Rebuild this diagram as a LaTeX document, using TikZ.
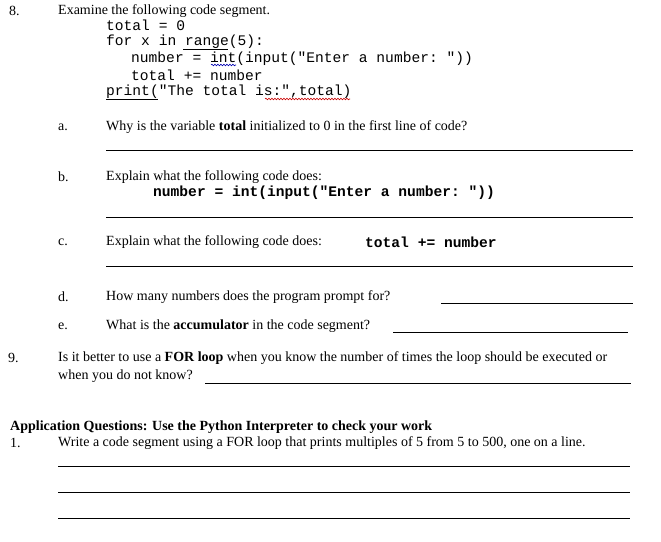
\documentclass[tikz,border=0pt]{standalone}
\usepackage{fontspec}
\setmainfont{Liberation Serif}
\setmonofont{Liberation Mono}
\usetikzlibrary{decorations.pathmorphing}
\begin{document}
\begin{tikzpicture}[x=1pt,y=-1pt,
  txt/.style={anchor=west,inner sep=0pt,font=\fontsize{14}{16}\selectfont},
  code/.style={anchor=west,inner sep=0pt,font=\fontsize{14.6}{16}\ttfamily},
  bcode/.style={anchor=west,inner sep=0pt,font=\fontsize{14.6}{16}\ttfamily\bfseries},
  rule/.style={draw=black,line width=0.6pt},
  wavy/.style={decorate,decoration={snake,amplitude=0.8pt,segment length=3pt},line width=0.6pt}]
\fill[white] (0,0) rectangle (661,541);
\node[txt] (n8) at (9,11) {8.};
\node[txt] (ex) at (58,11) {Examine the following\ code segment.};
\node[code] (c1) at (106,25) {total = 0};
\node[code] (c2) at (106,42) {for x in range(5):};
\node[code] (c3) at (131,59) {number = int(input("Enter a number: "))};
\node[code] (c4) at (131,75) {total += number};
\node[code] (c5) at (106,92) {print("The total is:",total)};
\draw[line width=0.5pt] (183,49) -- (228,49);
\draw[wavy,blue!70!black] (211,65) -- (236,65);
\draw[line width=0.5pt] (106,99) -- (158,99);
\draw[wavy,red!80!black] (265,99) -- (350,99);
\node[txt] (la) at (58,127) {a.};
\node[txt] (qa) at (106,127) {Why is the variable \textbf{total} initialized to 0 in the first line of code?};
\draw[rule] (106,150) -- (633,150);
\node[txt] (lb) at (58,177) {b.};
\node[txt] (qb) at (106,177) {Explain what the following code does:};
\node[bcode] (cb) at (153,193) {number = int(input("Enter a number: "))};
\draw[rule] (106,217) -- (633,217);
\node[txt] (lc) at (58,242) {c.};
\node[txt] (qc) at (106,242) {Explain what the following code does:};
\node[bcode] (cc) at (365,242) {total += number};
\draw[rule] (106,266) -- (633,266);
\node[txt] (ld) at (58,297) {d.};
\node[txt] (qd) at (106,297) {How many numbers does the program prompt for?};
\draw[rule] (441,303) -- (633,303);
\node[txt] (le) at (58,326) {e.};
\node[txt] (qe) at (106,326) {What is the \textbf{accumulator} in the code segment?};
\draw[rule] (393,332) -- (628,332);
\node[txt] (n9) at (8,358) {9.};
\node[txt] (q9a) at (58,358) {Is it better to use a \textbf{FOR loop} when you know the number of times the loop should be executed or};
\node[txt] (q9b) at (58,376) {when you do not know?};
\draw[rule] (205,383) -- (631,383);
\node[txt] (app) at (10,427) {\textbf{Application Questions: Use the Python Interpreter to check your work}};
\node[txt] (n1) at (10,443) {1.};
\node[txt] (q1) at (58,443) {Write a code segment using a FOR loop that prints multiples of 5 from 5 to 500, one on a line.};
\draw[rule] (58,466) -- (630,466);
\draw[rule] (58,492) -- (630,492);
\draw[rule] (58,518) -- (630,518);
\end{tikzpicture}
\end{document}
